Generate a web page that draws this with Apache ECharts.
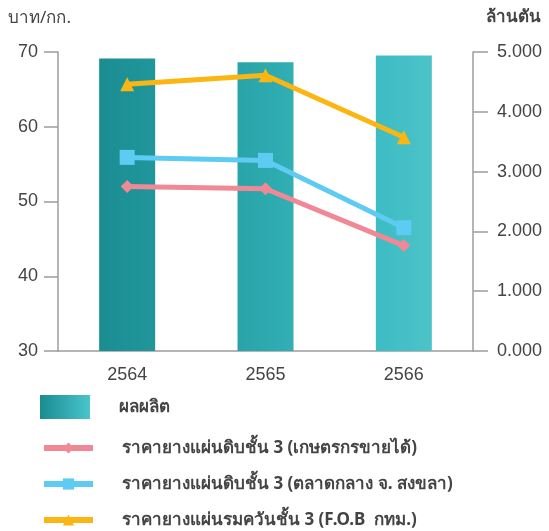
<!DOCTYPE html>
<html>
<head>
<meta charset="utf-8">
<script src="https://cdn.jsdelivr.net/npm/echarts@6/dist/echarts.min.js"></script>
<style>
  html, body { margin: 0; padding: 0; background: #fff; }
  #chart { width: 549px; height: 531px; }
</style>
</head>
<body>
<div id="chart"></div>
<script>
// ข้อมูล
var years = ['2564', '2565', '2566'];
var production = [4.89, 4.83, 4.94];          // ล้านตัน
var priceFarmer = [52.0, 51.7, 44.1];         // เกษตรกรขายได้
var priceSongkhla = [55.9, 55.5, 46.5];       // ตลาดกลาง จ. สงขลา
var priceFob = [65.7, 66.9, 58.6];            // F.O.B กทม.
var barName = 'ผลผลิต';
var lineNames = [
  'ราคายางแผ่นดิบชั้น 3 (เกษตรกรขายได้)',
  'ราคายางแผ่นดิบชั้น 3 (ตลาดกลาง จ. สงขลา)',
  'ราคายางแผ่นรมควันชั้น 3 (F.O.B  กทม.)'
];
var barColors = [['#1a8d91', '#21979b'], ['#29a4a9', '#31afb4'], ['#3dbcc3', '#4cc3c9']];

var chart = echarts.init(document.getElementById('chart'));

var axisGrey = '#9c9c9c';
var labelColor = '#444';
var font = 'Liberation Sans, Arial, sans-serif';
var thaiFont = 'Noto Sans, sans-serif';

function grad(c) {
  return new echarts.graphic.LinearGradient(0, 0, 1, 0, [
    { offset: 0, color: c[0] }, { offset: 1, color: c[1] }
  ]);
}

var legendText = {
  fontFamily: thaiFont,
  fontSize: 17,
  fontWeight: 'bold',
  color: '#444',
  lineHeight: 20,
  padding: [0, 0, 0, 24]
};

var option = {
  animation: false,
  grid: { left: 58, right: 76, top: 52, bottom: 180 },
  legend: [
    {
      orient: 'vertical',
      left: 40,
      top: 395,
      padding: 0,
      icon: 'rect',
      itemWidth: 50,
      itemHeight: 24,
      data: [barName],
      textStyle: legendText
    },
    {
      orient: 'vertical',
      left: 41,
      top: 438,
      height: 110,
      padding: 0,
      itemWidth: 49,
      itemHeight: 14,
      itemGap: 16,
      lineStyle: { width: 6 },
      data: lineNames,
      textStyle: legendText
    }
  ],
  xAxis: {
    type: 'category',
    data: years,
    axisLine: { lineStyle: { color: axisGrey, width: 1.5 } },
    axisTick: { show: false },
    axisLabel: { color: labelColor, fontSize: 18, fontFamily: font, margin: 15 }
  },
  yAxis: [
    {
      type: 'value',
      name: 'บาท/กก.',
      nameLocation: 'end',
      nameGap: 25,
      nameTextStyle: { color: labelColor, fontSize: 17, fontFamily: thaiFont, align: 'center', padding: [0, 37, 0, 0] },
      min: 30, max: 70, interval: 10,
      axisLine: { show: true, lineStyle: { color: axisGrey, width: 1.5 } },
      axisTick: { show: true, length: 14, lineStyle: { color: axisGrey, width: 1.5 } },
      axisLabel: { color: labelColor, fontSize: 18, fontFamily: font, margin: 20 },
      splitLine: { show: false }
    },
    {
      type: 'value',
      name: 'ล้านตัน',
      nameLocation: 'end',
      nameGap: 26,
      nameTextStyle: { color: labelColor, fontSize: 17, fontWeight: 'bold', fontFamily: thaiFont, align: 'center', padding: [0, 0, 0, 80] },
      min: 0, max: 5, interval: 1,
      axisLine: { show: true, lineStyle: { color: axisGrey, width: 1.5 } },
      axisTick: { show: true, length: 15, lineStyle: { color: axisGrey, width: 1.5 } },
      axisLabel: {
        color: labelColor, fontSize: 18, fontFamily: font, margin: 24,
        formatter: function (v) { return v.toFixed(3); }
      },
      splitLine: { show: false }
    }
  ],
  series: [
    {
      name: barName,
      type: 'bar',
      yAxisIndex: 1,
      barWidth: 56,
      itemStyle: { color: grad(['#1a8c90', '#4ac4cc']) },
      data: production.map(function (v, i) {
        return { value: v, itemStyle: { color: grad(barColors[i]) } };
      })
    },
    {
      name: lineNames[0],
      type: 'line',
      yAxisIndex: 0,
      data: priceFarmer,
      symbol: 'diamond',
      symbolSize: 13,
      lineStyle: { width: 5, color: '#f08995' },
      itemStyle: { color: '#f08995' },
      z: 3
    },
    {
      name: lineNames[1],
      type: 'line',
      yAxisIndex: 0,
      data: priceSongkhla,
      symbol: 'rect',
      symbolSize: 15,
      lineStyle: { width: 5, color: '#5ecbf2' },
      itemStyle: { color: '#5ecbf2' },
      z: 4
    },
    {
      name: lineNames[2],
      type: 'line',
      yAxisIndex: 0,
      data: priceFob,
      symbol: 'triangle',
      symbolSize: 14,
      lineStyle: { width: 5, color: '#fbb614' },
      itemStyle: { color: '#fbb614' },
      z: 5
    }
  ]
};

chart.setOption(option);
</script>
</body>
</html>
